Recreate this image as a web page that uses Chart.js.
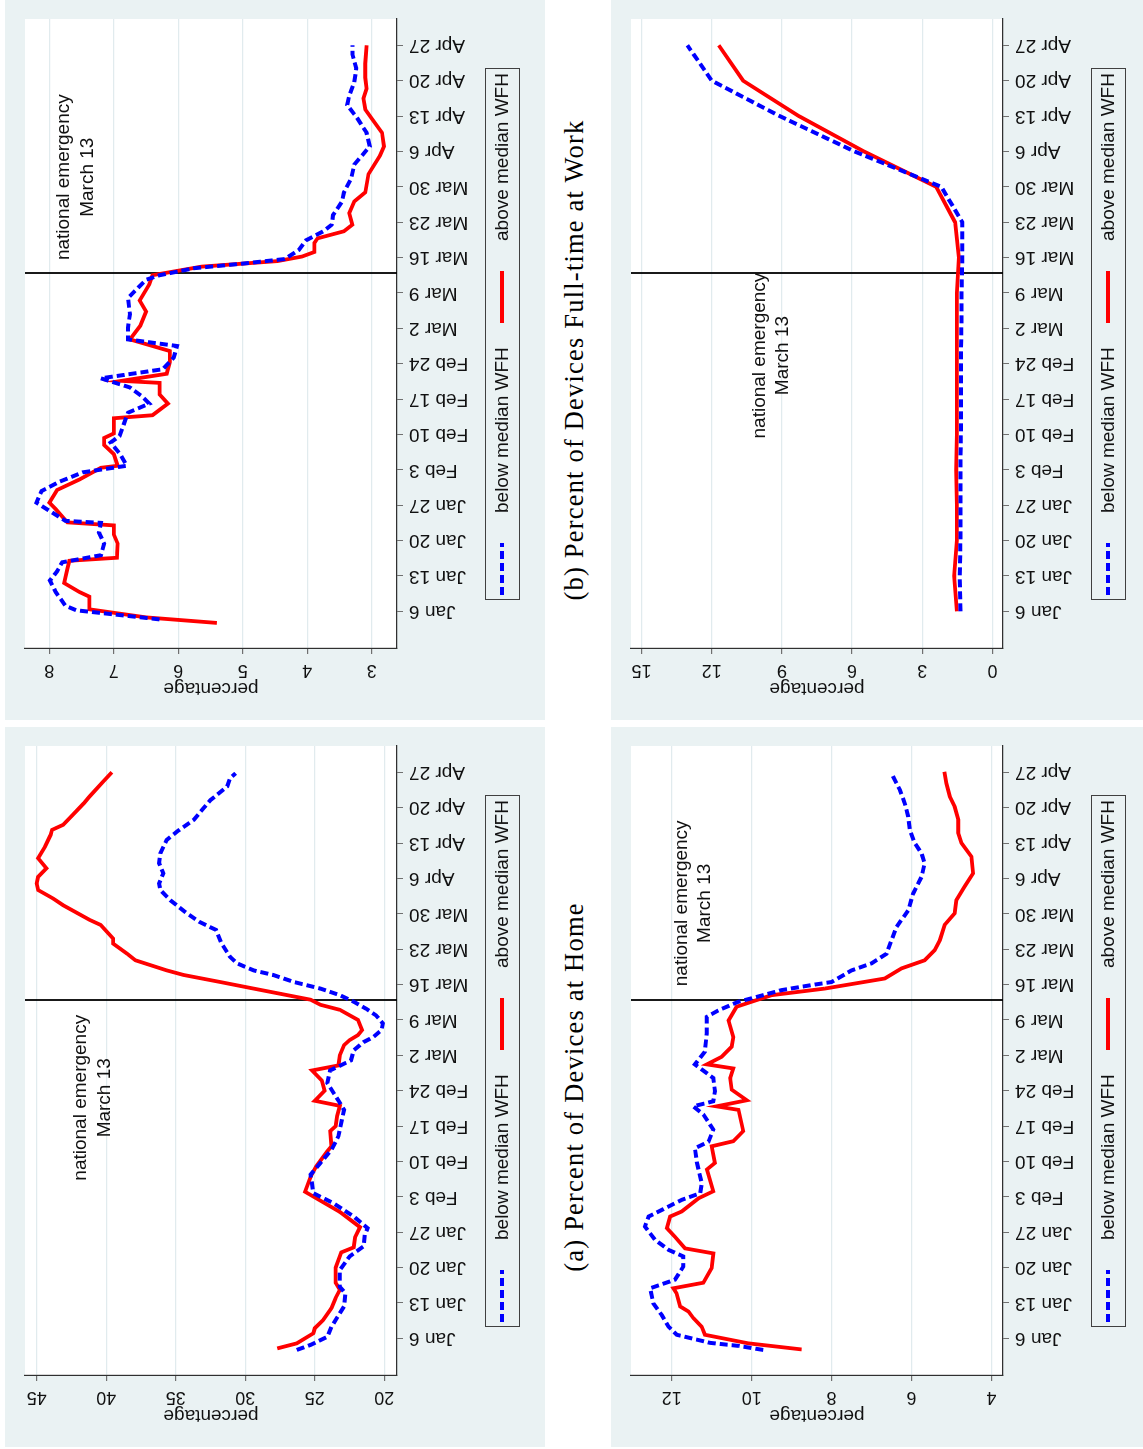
<!DOCTYPE html>
<html>
<head>
<meta charset="utf-8">
<title>Devices at home and at work, by WFH group</title>
<script src="https://cdn.jsdelivr.net/npm/chart.js@4.4.1/dist/chart.umd.min.js"></script>
<style>
  html, body { margin: 0; padding: 0; background: #ffffff; overflow: hidden; width: 1143px; height: 1449px; }
  /* The figure is laid out landscape and turned a quarter turn to fit the page */
  #figure { position: absolute; left: 0; top: 0; width: 1449px; height: 1143px;
            transform-origin: 0 0; transform: translate(0, 1449px) rotate(-90deg); }
  .panel { position: absolute; width: 720px; height: 540px; background: #EAF2F3; }
  .panel canvas { display: block; }
  .caption { position: absolute; width: 720px; text-align: center; line-height: 30px;
             font-family: "Liberation Serif", "DejaVu Serif", serif; font-size: 26.5px; letter-spacing: 1.2px; color: #000; }
</style>
</head>
<body>
<div id="figure">
  <div class="panel" style="left:2px; top:5px;"><canvas id="homeChart" width="720" height="540"></canvas></div>
  <div class="panel" style="left:729px; top:5px;"><canvas id="workChart" width="720" height="540"></canvas></div>
  <div class="panel" style="left:2px; top:611px;"><canvas id="thirdChart" width="720" height="540"></canvas></div>
  <div class="panel" style="left:729px; top:611px;"><canvas id="fourthChart" width="720" height="540"></canvas></div>
  <div class="caption" style="left:2px; top:559px;">(a) Percent of Devices at Home</div>
  <div class="caption" style="left:729px; top:559px;">(b) Percent of Devices Full-time at Work</div>
</div>

<script>
// Day of year 2020 (Jan 1 = 1); weekly Monday ticks
const tickDays = [6, 13, 20, 27, 34, 41, 48, 55, 62, 69, 76, 83, 90, 97, 104, 111, 118];
const tickLabels = ['Jan 6', 'Jan 13', 'Jan 20', 'Jan 27', 'Feb 3', 'Feb 10', 'Feb 17', 'Feb 24',
                    'Mar 2', 'Mar 9', 'Mar 16', 'Mar 23', 'Mar 30', 'Apr 6', 'Apr 13', 'Apr 20', 'Apr 27'];
const emergencyDay = 73; // March 13
const seriesLabels = ['below median WFH', 'above median WFH'];
const noteLines = ['national emergency', 'March 13'];

// (a) percent of devices at home
const homeBelowDay = [3.7,4.7,6.3,8.3,12.3,14.9,16.2,19.5,22.2,24.2,26.5,27.8,30.1,32.8,34.7,38.4,40.7,43.3,46,51.2,52.6,56.5,59,61,63,64.6,65.6,67,68.3,69.9,71.2,72.6,73.9,75.2,76.5,77.9,78.8,80.2,81.5,84.1,86.8,88.4,90.1,92.7,94.7,96,98,100,102,104.6,106.3,108.6,110.9,112.5,115.2,116.8,117.8];
const homeBelowPct = [26.3,25.3,24.1,23.8,22.9,22.8,23.2,23.2,22.5,21.5,21.4,21.2,22.2,23.7,25.1,25.3,24.6,23.8,23.3,22.9,23.2,24.1,23.9,22.4,22.2,21.5,20.8,20.2,20.1,20.6,21.3,22.2,23.2,24.6,26.5,28.0,29.4,30.6,31.1,31.7,32.1,33.3,34.2,35.4,36.1,36.2,35.9,36.2,36.1,35.65,34.9,33.7,33.0,32.5,31.3,31.1,30.7];
const homeAboveDay = [4,5,7,8,9.6,12,14,15.6,17,20,23,24,26,28,31,35,38,40,43,44,47,48,50,52,53,55,57,59,60,62,64,65,66,67,68,69,71,72,73,75.2,76.5,77.9,78.8,80.8,82.1,84.1,85.1,87.8,88.8,91.7,93,94.7,96,97.3,99,101,103.3,105.6,106.6,107.6,109.6,111.9,113.2,116.2,118];
const homeAbovePct = [27.7,26.3,25.1,25.0,24.4,23.8,23.5,23.2,23.5,23.5,23.1,22.2,22.1,21.75,23.2,25.7,25.3,24.9,24.1,23.8,23.9,23.5,23.4,23.2,25.0,24.3,24.5,25.2,23.3,23.2,22.9,22.5,21.9,21.6,21.75,21.9,23.2,24.6,25.3,29.4,31.8,34.45,35.65,37.9,38.5,39.5,39.5,40.4,41.2,43.1,43.8,44.9,45.0,44.9,44.3,44.9,44.4,44.0,43.9,43.1,42.4,41.6,41.2,40.2,39.6];

// (b) percent of devices full-time at work
const workBelowDay = [4.4,6.2,7.1,9.8,12.1,13.9,15.7,17.1,19.4,21.6,23.5,23.9,27.5,29.8,31.6,33.5,34.8,37.1,39.4,40.7,45.3,47.1,48.5,50.3,52.1,53.9,56.2,58.5,59.8,62.1,64.8,68,71.6,72.5,73.9,74.8,75.7,77.5,79.4,81.2,82.5,84.4,87.1,88.9,91.6,94.4,98,100.7,103.5,106.2,108,110.7,113.5,116.2,118];
const workBelowPct = [6.29,7.58,7.75,7.9,7.99,7.88,7.8,7.2,7.15,7.23,7.2,7.75,8.2,8.12,7.85,7.48,6.8,6.9,7.05,6.91,6.78,6.45,6.56,6.75,7.2,6.24,6.07,6.02,6.78,6.78,6.75,6.78,6.5,6.29,5.75,5.0,4.35,4.13,4.02,3.75,3.62,3.6,3.46,3.43,3.32,3.27,3.03,3.08,3.22,3.38,3.35,3.27,3.24,3.3,3.3];
const workAboveDay = [3.7,4.8,6.4,8.9,9.8,11.6,14.4,16,16.6,19.4,21.2,23,23.6,26.2,27.5,30,32.1,34.4,34.8,37.1,38.9,40.3,41.2,44.2,44.8,47.1,48.9,51.2,51.6,53,55.3,57.5,59.8,62.5,65.3,67.5,70.7,72.5,74.2,75.3,76.2,77.1,78.9,79.8,81.2,82.5,84.8,87.1,88.9,92.5,96.2,98,100.7,103.5,105.3,107.5,109.4,111.6,114.4,118];
const workAbovePct = [5.4,6.5,7.38,7.38,7.53,7.77,7.72,7.69,6.95,6.94,7.0,7.0,7.72,7.9,8.0,7.88,7.53,7.2,6.94,7.0,7.15,7.15,7.0,7.0,6.4,6.16,6.29,6.29,6.88,6.18,6.13,6.13,6.75,6.59,6.5,6.6,6.45,6.4,5.64,4.46,4.08,3.89,3.89,3.84,3.43,3.3,3.35,3.27,3.1,3.05,2.87,2.81,2.84,3.0,3.1,3.13,3.08,3.1,3.1,3.08];

// third panel (daily)
const thirdBelowDay = [3.7,4.5,5.1,6.7,8.3,10.6,12.9,15.9,17.6,20.2,22.2,23.5,25.5,28.1,30.1,31.4,33.4,34.7,36.7,40.7,43.6,44.9,47.3,50.3,51.9,52.9,54.9,57.5,60.2,62.7,66.3,69.6,70.9,72.6,73.2,74.9,75.9,76.5,78.8,80.2,82.1,84.8,87.4,90.7,94,97.3,100,102,104,106.6,109.2,111.9,114.5,116.5,117.8];
const thirdBelowPct = [9.71,10.33,11.04,11.875,12.08,12.25,12.46,12.54,11.92,11.71,11.71,12.08,12.42,12.67,12.58,12.25,11.75,11.29,11.25,11.37,11.42,11.08,10.96,11.21,11.46,10.96,10.92,10.96,11.42,11.17,11.125,11.125,10.83,10.33,10.04,9.25,8.5,8.0,7.5,7.0,6.625,6.5,6.375,6.08,5.96,5.75,5.67,5.75,5.92,6.04,6.08,6.17,6.29,6.42,6.5];
const thirdAboveDay = [3.8,5,6.7,8.3,10,11.3,12.3,14.9,15.9,17,19.9,22.8,23.8,26.1,27.8,30.1,31.1,33.7,35.1,39.4,40.7,44,45,47,51.2,51.9,53.1,55.2,57.5,59.4,60.2,61.7,63.7,65.6,68.9,71.6,72.6,73.9,75.2,77.2,79.2,80.8,82.8,84.8,87.8,90.1,92.7,95.4,98,101.3,104,106,108.6,111.2,113.2,115.8,118.1];
const thirdAbovePct = [8.75,10.08,11.17,11.25,11.46,11.58,11.79,11.88,11.96,11.21,11.0,10.96,11.67,11.92,12.12,12.04,11.75,11.33,10.96,11.12,10.92,11.0,10.46,10.21,10.33,10.88,10.12,10.5,10.54,10.46,11.12,10.75,10.5,10.46,10.58,10.38,10.0,9.5,8.17,6.67,6.25,5.67,5.42,5.29,5.17,4.92,4.875,4.67,4.46,4.5,4.75,4.83,4.83,4.92,5.04,5.125,5.18];

// fourth panel (weekly)
const fourthDay = [6, 13, 20, 27, 34, 41, 48, 55, 62, 69, 76, 83, 90, 97, 104, 111, 118];
const fourthBelowPct = [1.37,1.40,1.37,1.37,1.37,1.35,1.35,1.35,1.33,1.32,1.29,1.29,2.19,5.9,9.1,12.0,13.04];
const fourthAbovePct = [1.52,1.64,1.52,1.52,1.55,1.52,1.52,1.52,1.52,1.52,1.44,1.6,2.41,5.5,8.28,10.66,11.7];

// value-axis ticks per panel
const homeTicks = [20, 25, 30, 35, 40, 45];
const workTicks = [3, 4, 5, 6, 7, 8];
const thirdTicks = [4, 6, 8, 10, 12];
const fourthTicks = [0, 3, 6, 9, 12, 15];

const SANS = '"Liberation Sans", Arial, sans-serif';
const INK = '#111111';
const PANEL_BG = '#EAF2F3';
Chart.defaults.font.family = SANS;
Chart.defaults.color = INK;

function points(days, vals) { return days.map((d, i) => ({ x: d, y: vals[i] })); }

// plot-region fill, event line, note text, turned value labels and boxed legend
const stataDecor = {
  id: 'stataDecor',
  beforeDraw(chart) {
    const { ctx, chartArea: a } = chart;
    ctx.save();
    ctx.fillStyle = '#ffffff';
    ctx.fillRect(a.left, a.top, a.right - a.left, a.bottom - a.top);
    ctx.restore();
  },
  beforeDatasetsDraw(chart, args, opts) {
    const { ctx, chartArea: a, scales: { x, y } } = chart;
    const px = Math.round(x.getPixelForValue(emergencyDay));
    ctx.save();
    ctx.strokeStyle = '#000000';
    ctx.lineWidth = 1.8;
    ctx.beginPath();
    ctx.moveTo(px, a.top);
    ctx.lineTo(px, a.bottom);
    ctx.stroke();
    ctx.fillStyle = INK;
    ctx.font = '19px ' + SANS;
    ctx.textAlign = 'center';
    ctx.textBaseline = 'middle';
    const tx = x.getPixelForValue(opts.noteDay);
    noteLines.forEach((line, i) => ctx.fillText(line, tx, y.getPixelForValue(opts.noteAt[i])));
    ctx.restore();
  },
  afterDraw(chart) {
    const { ctx, chartArea: a, scales: { y } } = chart;
    ctx.save();
    ctx.fillStyle = INK;
    ctx.font = '18px ' + SANS;
    ctx.textAlign = 'center';
    ctx.textBaseline = 'middle';
    y.ticks.forEach(t => {
      const py = y.getPixelForValue(t.value);
      ctx.save();
      ctx.translate(a.left - 22, py);
      ctx.rotate(-Math.PI / 2);
      ctx.fillText(String(t.value), 0, 0);
      ctx.restore();
    });
    ctx.restore();

    // legend box below the plot
    const box = { left: 120, top: 480, width: 531, height: 34 };
    const cy = box.top + box.height / 2;
    ctx.save();
    ctx.fillStyle = PANEL_BG;
    ctx.fillRect(box.left, box.top, box.width, box.height);
    ctx.strokeStyle = '#404040';
    ctx.lineWidth = 1;
    ctx.strokeRect(box.left + 0.5, box.top + 0.5, box.width, box.height);
    const keyStart = [5, 277];
    const keyLen = 52;
    chart.data.datasets.forEach((ds, i) => {
      const x0 = box.left + keyStart[i];
      ctx.save();
      ctx.strokeStyle = ds.borderColor;
      ctx.lineWidth = ds.borderWidth;
      ctx.setLineDash(ds.borderDash || []);
      ctx.beginPath();
      ctx.moveTo(x0, cy);
      ctx.lineTo(x0 + keyLen, cy);
      ctx.stroke();
      ctx.restore();
      ctx.fillStyle = INK;
      ctx.font = '19px ' + SANS;
      ctx.textAlign = 'left';
      ctx.textBaseline = 'middle';
      ctx.fillText(ds.label, x0 + keyLen + 30, cy + 1);
    });
    ctx.restore();
  }
};

function makePanel(canvasId, cfg) {
  return new Chart(document.getElementById(canvasId), {
    type: 'line',
    data: {
      datasets: [
        { label: seriesLabels[0], data: points(cfg.belowDay, cfg.belowPct),
          borderColor: '#0000FF', borderWidth: 4, borderDash: [8, 4], pointRadius: 0, tension: 0, fill: false },
        { label: seriesLabels[1], data: points(cfg.aboveDay, cfg.abovePct),
          borderColor: '#FF0000', borderWidth: 3.8, pointRadius: 0, tension: 0, fill: false }
      ]
    },
    options: {
      responsive: false,
      animation: false,
      devicePixelRatio: 1,
      layout: { padding: { top: 20, right: 19, left: 0, bottom: 0 } },
      plugins: {
        legend: { display: false },
        tooltip: { enabled: false },
        stataDecor: { noteDay: cfg.noteDay, noteAt: cfg.noteAt }
      },
      scales: {
        x: {
          type: 'linear', min: -1.26, max: 123.2,
          afterBuildTicks: s => { s.ticks = tickDays.map(v => ({ value: v })); },
          afterFit: s => { s.height = 148; },
          ticks: { autoSkip: false, minRotation: 90, maxRotation: 90, padding: 6,
                   font: { size: 19 }, color: INK,
                   callback: (v, i) => tickLabels[i] },
          grid: { drawOnChartArea: false, drawTicks: true, tickLength: 6, color: '#707070', lineWidth: 1 },
          border: { display: true, color: '#303030', width: 1.2 }
        },
        y: {
          type: 'linear', min: cfg.yMin, max: cfg.yMax,
          afterBuildTicks: s => { s.ticks = cfg.ticks.map(v => ({ value: v })); },
          afterFit: s => { s.width = 72; },
          ticks: { display: false },
          grid: { color: '#E1EBEE', lineWidth: 1.2, drawTicks: true, tickLength: 6, tickColor: '#707070' },
          border: { display: true, color: '#303030', width: 1.2 },
          title: { display: true, text: 'percentage', font: { size: 19 }, color: INK, padding: { top: 20, bottom: 0 } }
        }
      }
    },
    plugins: [stataDecor]
  });
}

makePanel('homeChart', {
  belowDay: homeBelowDay, belowPct: homeBelowPct, aboveDay: homeAboveDay, abovePct: homeAbovePct,
  yMin: 19.09, yMax: 45.84, ticks: homeTicks, noteDay: 53.6, noteAt: [41.85, 40.1]
});
makePanel('workChart', {
  belowDay: workBelowDay, belowPct: workBelowPct, aboveDay: workAboveDay, abovePct: workAbovePct,
  yMin: 2.608, yMax: 8.377, ticks: workTicks, noteDay: 91.9, noteAt: [7.77, 7.41]
});
makePanel('thirdChart', {
  belowDay: thirdBelowDay, belowPct: thirdBelowPct, aboveDay: thirdAboveDay, abovePct: thirdAbovePct,
  yMin: 3.71, yMax: 13.02, ticks: thirdTicks, noteDay: 92.07, noteAt: [11.75, 11.17]
});
makePanel('fourthChart', {
  belowDay: fourthDay, belowPct: fourthBelowPct, aboveDay: fourthDay, abovePct: fourthAbovePct,
  yMin: -0.45, yMax: 15.45, ticks: fourthTicks, noteDay: 56.6, noteAt: [9.95, 8.95]
});
</script>
</body>
</html>
